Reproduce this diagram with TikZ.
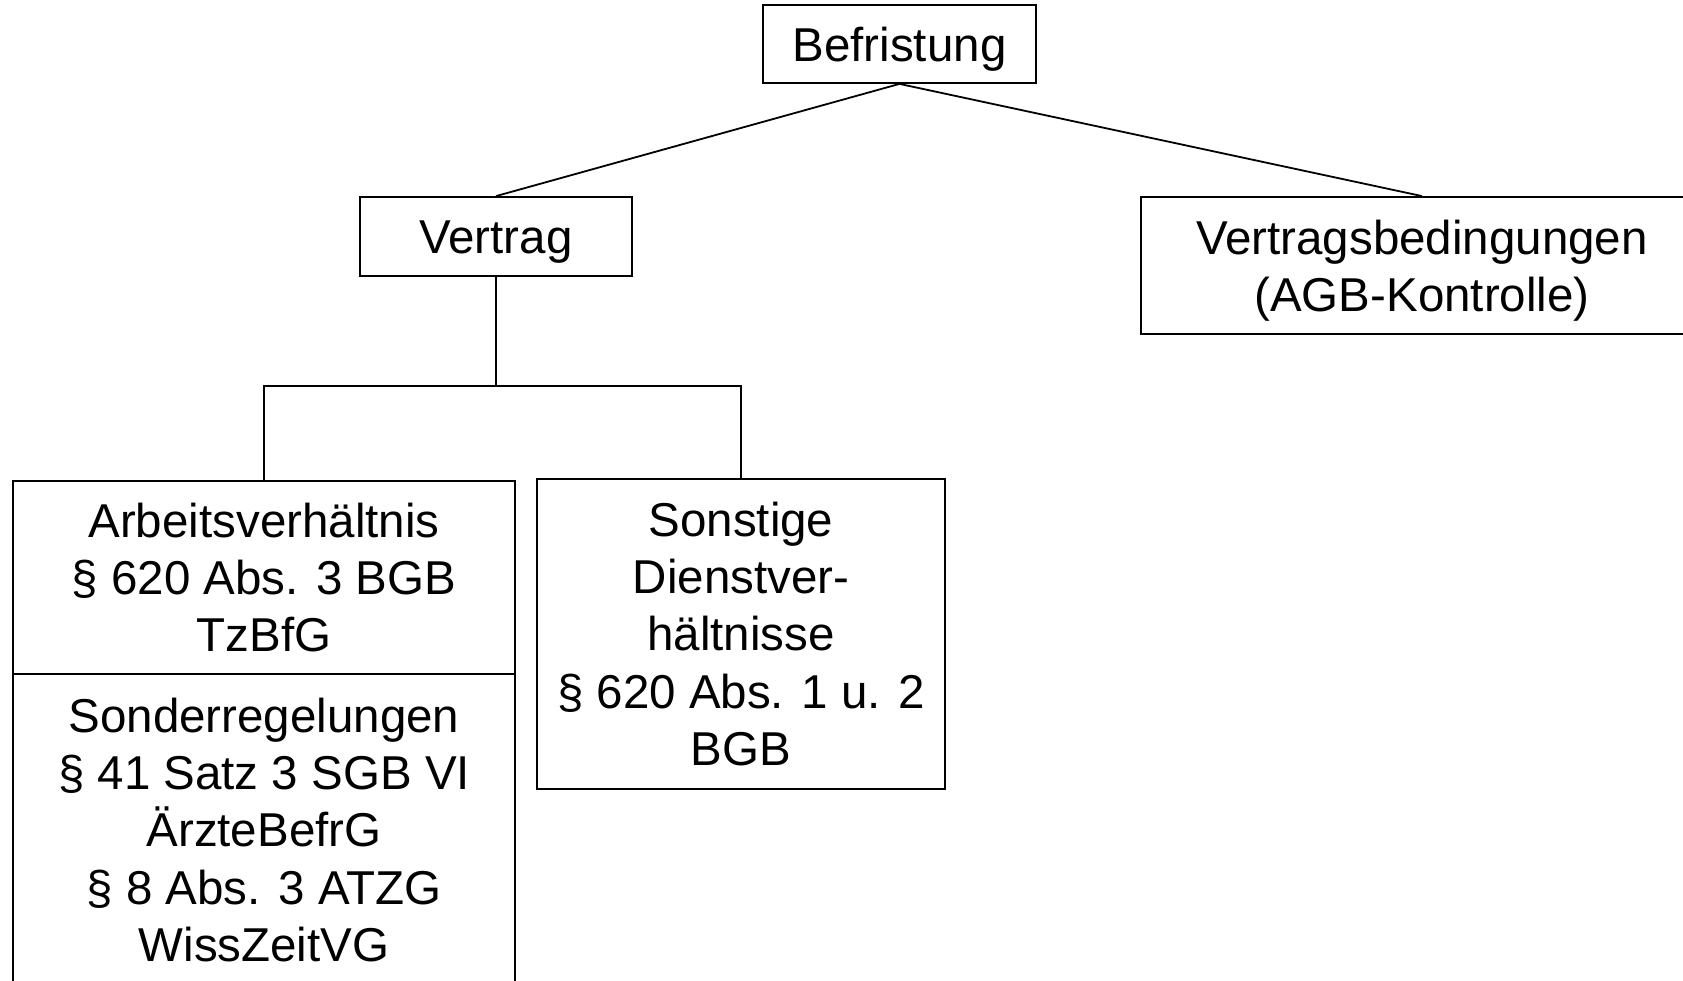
\documentclass[tikz,border=0pt]{standalone}
\usepackage{fontspec}
\setmainfont{Liberation Sans}
\begin{document}
\begin{tikzpicture}[x=1pt,y=-1pt,
  txt/.style={inner sep=0pt, align=center,
    font=\fontsize{47.5pt}{57.4pt}\selectfont},
  box/.style={txt, draw, line width=1.8pt},
  conn/.style={line width=1.8pt}]
\useasboundingbox (0,0) rectangle (1683,980);
\clip (0,0) rectangle (1683,980);
\node[box, minimum width=273pt, minimum height=78pt] (bef) at (899.5,44) {};
\node[txt] (beft) at ([yshift=-5pt]bef.center) {Befristung};
\node[box, minimum width=272pt, minimum height=79pt] (ver) at (496,236.5) {};
\node[txt] (vert) at ([yshift=-5.5pt]ver.center) {Vertrag};
\node[box, minimum width=562pt, minimum height=137pt] (vb) at (1422,265.5) {};
\node[txt] (vbt) at ([yshift=-5.5pt]vb.center) {Vertragsbedingungen\\(AGB-Kontrolle)};
\node[box, minimum width=502pt, minimum height=193pt] (arb) at (264,577.5) {Arbeitsverhältnis\\§ 620 Abs. 3 BGB\\TzBfG};
\node[box, minimum width=502pt, minimum height=312pt] (sond) at (264,830) {Sonderregelungen\\§ 41 Satz 3 SGB VI\\ÄrzteBefrG\\§ 8 Abs. 3 ATZG\\WissZeitVG};
\node[box, minimum width=408pt, minimum height=310pt] (sonst) at (741,634) {Sonstige\\Dienstver-\\hältnisse\\§ 620 Abs. 1 u. 2\\BGB};
\coordinate (j) at (496,386);
\draw[conn] (bef.south) -- (ver.north);
\draw[conn] (bef.south) -- (vb.north);
\draw[conn] (ver.south) -- (j);
\draw[conn] (arb.north) |- (j) -| (sonst.north);
\end{tikzpicture}
\end{document}
